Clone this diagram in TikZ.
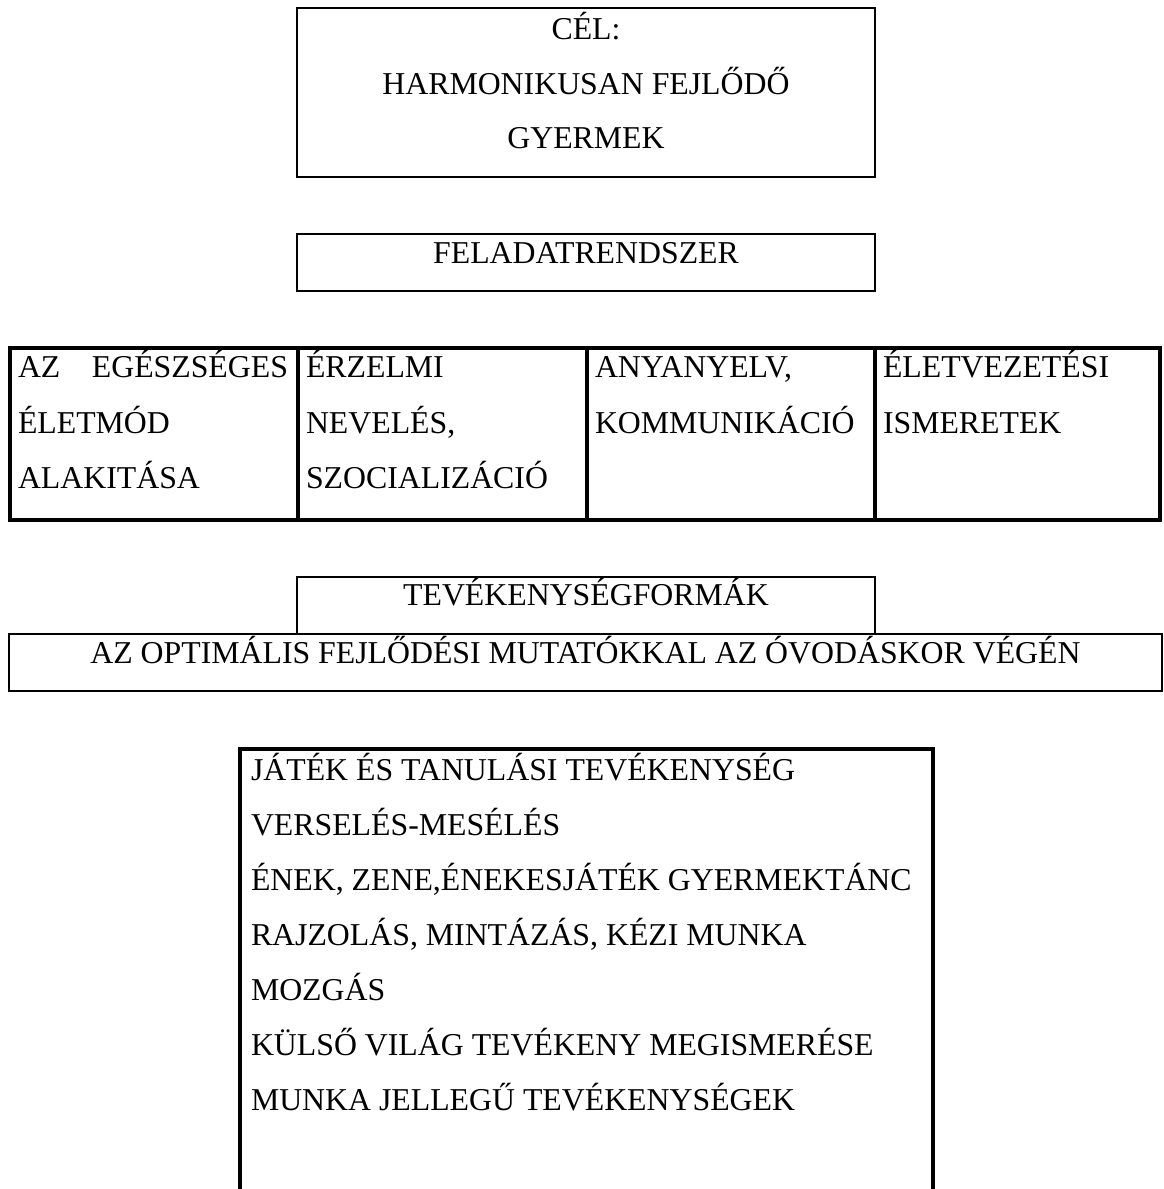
\documentclass[tikz,border=0pt]{standalone}
\usepackage{fontspec}
\setmainfont{Liberation Serif}
\begin{document}
\begin{tikzpicture}[x=1pt,y=-1pt,
  thinline/.style={line width=2pt},
  hairline/.style={line width=1.6pt},
  midline/.style={line width=2.4pt},
  thickline/.style={line width=3.3pt},
  txt/.style={inner sep=0pt,outer sep=0pt,font=\fontsize{31.8}{55}\selectfont},
  ctxt/.style={txt,anchor=base},
  ltxt/.style={txt,anchor=base west}]
\fill[white] (0,0) rectangle (1164,1189);
\useasboundingbox (0,0) rectangle (1164,1189);

% goal box
\draw[thinline] (297,8) rectangle (875,177);
\node[ctxt] (cel1) at (586,39) {CÉL:};
\node[ctxt] (cel2) at (586,94) {HARMONIKUSAN FEJLŐDŐ};
\node[ctxt] (cel3) at (586,148) {GYERMEK};

% task system box
\draw[thinline] (297,234) rectangle (875,291);
\node[ctxt] (feladat) at (586,263) {FELADATRENDSZER};

% table of tasks
\draw[thickline] (10,348) rectangle (1160,520);
\draw[thickline] (298,348) -- (298,520);
\draw[thickline] (587,348) -- (587,520);
\draw[thickline] (875,348) -- (875,520);
\node[ltxt] (a1) at (18,377) {\makebox[270pt][s]{AZ\hfill EGÉSZSÉGES}};
\node[ltxt] (a2) at (18,433) {ÉLETMÓD};
\node[ltxt] (a3) at (18,488) {ALAKITÁSA};
\node[ltxt] (b1) at (306,377) {ÉRZELMI};
\node[ltxt] (b2) at (306,433) {NEVELÉS,};
\node[ltxt] (b3) at (306,488) {SZOCIALIZÁCIÓ};
\node[ltxt] (c1) at (595,377) {ANYANYELV,};
\node[ltxt] (c2) at (595,433) {KOMMUNIKÁCIÓ};
\node[ltxt] (d1) at (883,377) {ÉLETVEZETÉSI};
\node[ltxt] (d2) at (883,433) {ISMERETEK};

% activity forms
\draw[hairline] (297,633) -- (297,577) -- (875,577) -- (875,633);
\node[ctxt] (tev) at (586,605) {TEVÉKENYSÉGFORMÁK};
\draw[midline] (9,634) rectangle (1162,691);
\node[ctxt] (opt) at (585.5,663) {AZ OPTIMÁLIS FEJLŐDÉSI MUTATÓKKAL AZ ÓVODÁSKOR VÉGÉN};

% activity list box (open at the bottom)
\draw[thickline] (240,1195) -- (240,749) -- (933,749) -- (933,1195);
\node[ltxt] (l1) at (251,780) {JÁTÉK ÉS TANULÁSI TEVÉKENYSÉG};
\node[ltxt] (l2) at (251,835) {VERSELÉS-MESÉLÉS};
\node[ltxt] (l3) at (251,890) {ÉNEK, ZENE,ÉNEKESJÁTÉK GYERMEKTÁNC};
\node[ltxt] (l4) at (251,945) {RAJZOLÁS, MINTÁZÁS, KÉZI MUNKA};
\node[ltxt] (l5) at (251,1000) {MOZGÁS};
\node[ltxt] (l6) at (251,1055) {KÜLSŐ VILÁG TEVÉKENY MEGISMERÉSE};
\node[ltxt] (l7) at (251,1110) {MUNKA JELLEGŰ TEVÉKENYSÉGEK};
\end{tikzpicture}
\end{document}
